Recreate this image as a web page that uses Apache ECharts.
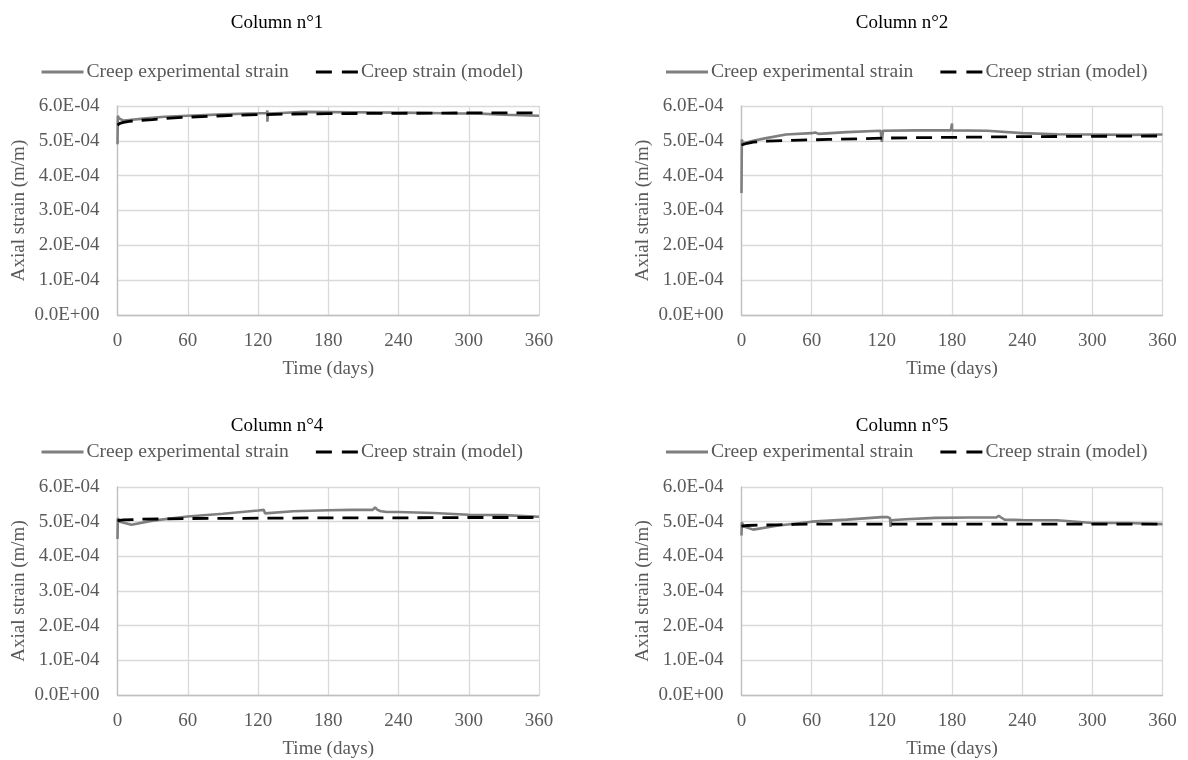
<!DOCTYPE html>
<html>
<head>
<meta charset="utf-8">
<script src="https://cdn.jsdelivr.net/npm/echarts@6/dist/echarts.min.js"></script>
<style>html,body{margin:0;padding:0;background:#fff;}#c{width:1188px;height:760px;}</style>
</head>
<body>
<div id="c"></div>
<script>
// ---- Data (time in days, axial strain in m/m) ----
const panelTitles = ['Column n°1', 'Column n°2', 'Column n°4', 'Column n°5'];
const expNames = ['Creep experimental strain', 'Creep experimental strain', 'Creep experimental strain', 'Creep experimental strain'];
const modelNames = ['Creep strain (model)', 'Creep strian (model)', 'Creep strain (model)', 'Creep strain (model)'];
const xTicks = [0, 60, 120, 180, 240, 300, 360];

const col1ExpDays   = [0, 0.3, 1, 5, 10, 20, 40, 60, 90, 120, 127.5, 128, 128, 128.5, 140, 160, 200, 240, 280, 310, 330, 360];
const col1ExpStrain = [4.9e-4, 5.72e-4, 5.65e-4, 5.58e-4, 5.60e-4, 5.63e-4, 5.69e-4, 5.72e-4, 5.76e-4, 5.79e-4, 5.80e-4, 5.87e-4, 5.55e-4, 5.78e-4, 5.80e-4, 5.83e-4, 5.82e-4, 5.81e-4, 5.79e-4, 5.78e-4, 5.75e-4, 5.72e-4];
const col1ModelDays   = [0, 2, 5, 10, 20, 30, 45, 60, 90, 120, 150, 180, 240, 300, 360];
const col1ModelStrain = [5.45e-4, 5.50e-4, 5.53e-4, 5.56e-4, 5.59e-4, 5.61e-4, 5.65e-4, 5.68e-4, 5.72e-4, 5.75e-4, 5.77e-4, 5.78e-4, 5.79e-4, 5.80e-4, 5.80e-4];

const col2ExpDays   = [0, 0.3, 1, 5, 10, 20, 38, 60, 63, 66, 90, 119, 120, 120, 121, 150, 179, 180, 180, 181, 210, 240, 270, 300, 330, 360];
const col2ExpStrain = [3.5e-4, 5.04e-4, 4.93e-4, 4.96e-4, 5.00e-4, 5.07e-4, 5.18e-4, 5.22e-4, 5.24e-4, 5.20e-4, 5.25e-4, 5.29e-4, 5.34e-4, 4.97e-4, 5.29e-4, 5.30e-4, 5.30e-4, 5.50e-4, 5.30e-4, 5.30e-4, 5.29e-4, 5.22e-4, 5.19e-4, 5.18e-4, 5.17e-4, 5.18e-4];
const col2ModelDays   = [0, 5, 10, 22, 50, 75, 100, 125, 150, 180, 240, 300, 360];
const col2ModelStrain = [4.88e-4, 4.93e-4, 4.96e-4, 4.99e-4, 5.02e-4, 5.04e-4, 5.06e-4, 5.08e-4, 5.09e-4, 5.10e-4, 5.12e-4, 5.13e-4, 5.14e-4];

const col4ExpDays   = [0, 0.3, 2, 12, 30, 60, 90, 120, 125, 126, 127, 150, 180, 200, 218, 220, 222, 225, 230, 240, 270, 300, 330, 360];
const col4ExpStrain = [4.5e-4, 5.10e-4, 5.00e-4, 4.91e-4, 5.03e-4, 5.15e-4, 5.23e-4, 5.32e-4, 5.34e-4, 5.24e-4, 5.25e-4, 5.30e-4, 5.33e-4, 5.34e-4, 5.34e-4, 5.41e-4, 5.34e-4, 5.30e-4, 5.28e-4, 5.28e-4, 5.25e-4, 5.20e-4, 5.19e-4, 5.14e-4];
const col4ModelDays   = [0, 5, 20, 40, 60, 120, 180, 240, 300, 360];
const col4ModelStrain = [5.03e-4, 5.05e-4, 5.07e-4, 5.08e-4, 5.09e-4, 5.10e-4, 5.11e-4, 5.11e-4, 5.12e-4, 5.12e-4];

const col5ExpDays   = [0, 0.3, 2, 10, 30, 60, 90, 120, 125, 127, 127.5, 128, 140, 166, 195, 218, 220, 222, 225, 240, 270, 300, 330, 360];
const col5ExpStrain = [4.6e-4, 4.98e-4, 4.86e-4, 4.77e-4, 4.88e-4, 5.00e-4, 5.06e-4, 5.13e-4, 5.13e-4, 5.10e-4, 4.85e-4, 5.04e-4, 5.07e-4, 5.11e-4, 5.12e-4, 5.12e-4, 5.17e-4, 5.12e-4, 5.06e-4, 5.05e-4, 5.04e-4, 4.96e-4, 4.96e-4, 4.93e-4];
const col5ModelDays   = [0, 5, 15, 30, 45, 60, 120, 180, 240, 300, 360];
const col5ModelStrain = [4.87e-4, 4.89e-4, 4.90e-4, 4.91e-4, 4.92e-4, 4.93e-4, 4.93e-4, 4.93e-4, 4.93e-4, 4.93e-4, 4.93e-4];

// ---- Build chart ----
const FONT = "'Liberation Serif', 'Times New Roman', serif";
const GRAY_TXT = '#595959';
function zip(a, b) { return a.map((x, i) => [x, b[i]]); }
function fmtE(v) {
  if (Math.abs(v) < 1e-12) return '0.0E+00';
  const e = Math.floor(Math.log10(Math.abs(v)) + 1e-6);
  const m = v / Math.pow(10, e);
  return m.toFixed(1) + 'E' + (e < 0 ? '-' : '+') + String(Math.abs(e)).padStart(2, '0');
}
const expData = [zip(col1ExpDays, col1ExpStrain), zip(col2ExpDays, col2ExpStrain), zip(col4ExpDays, col4ExpStrain), zip(col5ExpDays, col5ExpStrain)];
const modelData = [zip(col1ModelDays, col1ModelStrain), zip(col2ModelDays, col2ModelStrain), zip(col4ModelDays, col4ModelStrain), zip(col5ModelDays, col5ModelStrain)];

const SOLID_ICON = 'path://M0,0h42v3h-42z';
const DASH_ICON = 'path://M0,0h16v3h-16z M26,0h16v3h-16z';

const layout = [
  { left: 117.5, top: 106, width: 421.5, height: 209, titleX: 277, titleY: 14, legendX: 41.5, legendY: 62 },
  { left: 741.5, top: 106, width: 421, height: 209, titleX: 902, titleY: 14, legendX: 666, legendY: 62 },
  { left: 117.5, top: 487, width: 421.5, height: 210, titleX: 277, titleY: 417, legendX: 41.5, legendY: 442 },
  { left: 741.5, top: 487, width: 421, height: 210, titleX: 902, titleY: 417, legendX: 666, legendY: 442 }
];

const option = { animation: false, backgroundColor: '#fff', title: [], legend: [], grid: [], xAxis: [], yAxis: [], series: [] };
layout.forEach((L, i) => {
  option.title.push({ text: panelTitles[i], left: L.titleX, top: L.titleY, textAlign: 'center', padding: 0,
    textStyle: { fontFamily: FONT, fontSize: 19, fontWeight: 'normal', color: '#000' } });
  option.legend.push({ left: L.legendX, top: L.legendY, padding: 0, itemWidth: 42, itemHeight: 3, itemGap: 27,
    data: [{ name: expNames[i], icon: SOLID_ICON }, { name: modelNames[i], icon: DASH_ICON }],
    textStyle: { fontFamily: FONT, fontSize: 19.6, color: GRAY_TXT, padding: [0, 0, 0, -2] } });
  option.grid.push({ left: L.left, top: L.top, width: L.width, height: L.height, containLabel: false });
  option.xAxis.push({ type: 'value', gridIndex: i, min: 0, max: 360, interval: 60,
    name: 'Time (days)', nameLocation: 'middle', nameGap: 45,
    nameTextStyle: { fontFamily: FONT, fontSize: 19, color: GRAY_TXT },
    axisLine: { show: true, lineStyle: { color: '#bfbfbf', width: 1.3 } }, axisTick: { show: false },
    axisLabel: { fontFamily: FONT, fontSize: 19, color: GRAY_TXT, margin: 17 },
    splitLine: { show: true, lineStyle: { color: '#d9d9d9', width: 1.3 } } });
  option.yAxis.push({ type: 'value', gridIndex: i, min: 0, max: 6e-4, interval: 1e-4,
    name: 'Axial strain (m/m)', nameLocation: 'middle', nameGap: 89, nameRotate: 90,
    nameTextStyle: { fontFamily: FONT, fontSize: 19, color: GRAY_TXT },
    axisLine: { show: true, lineStyle: { color: '#bfbfbf', width: 1.3 } }, axisTick: { show: false },
    axisLabel: { fontFamily: FONT, fontSize: 19, color: GRAY_TXT, margin: 18, formatter: fmtE },
    splitLine: { show: true, lineStyle: { color: '#d9d9d9', width: 1.3 } } });
  option.series.push({ name: expNames[i], type: 'line', xAxisIndex: i, yAxisIndex: i, data: expData[i],
    showSymbol: false, symbol: 'none', lineStyle: { color: '#7f7f7f', width: 2.6 }, itemStyle: { color: '#7f7f7f' }, z: 2 });
  option.series.push({ name: modelNames[i], type: 'line', xAxisIndex: i, yAxisIndex: i, data: modelData[i],
    showSymbol: false, symbol: 'none', lineStyle: { color: '#000', width: 2.8, type: [16, 9] }, itemStyle: { color: '#000' }, z: 3 });
});
const chart = echarts.init(document.getElementById('c'), null, { renderer: 'canvas' });
chart.setOption(option);
</script>
</body>
</html>
